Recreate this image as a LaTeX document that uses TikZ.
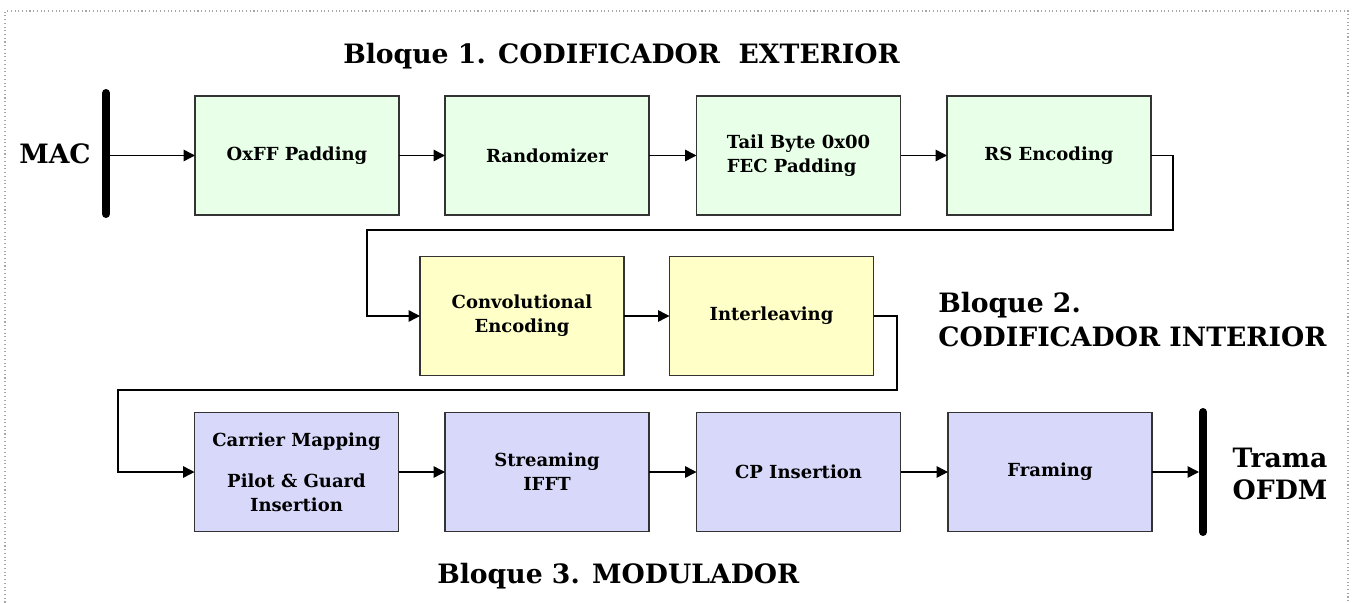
\documentclass[tikz,border=0pt]{standalone}
\usepackage{fontspec}
\setmainfont{DejaVu Serif}
\usetikzlibrary{arrows.meta}
\definecolor{grnfill}{HTML}{E8FFE8}
\definecolor{ylwfill}{HTML}{FFFFC8}
\definecolor{lavfill}{HTML}{D8D8FA}
\definecolor{boxline}{HTML}{333333}
\newcommand\bxfont{\fontsize{13.5}{18}\selectfont\bfseries}
\newcommand\ttlfont{\fontsize{20}{24}\selectfont\bfseries}
\begin{document}
\begin{tikzpicture}[x=0.75pt,y=-0.75pt,
  blk/.style={draw=boxline, line width=1.1pt, minimum width=153pt, minimum height=89.25pt,
    inner sep=0pt, outer sep=0pt, align=center, font=\bxfont},
  grn/.style={blk, fill=grnfill},
  ylw/.style={blk, fill=ylwfill},
  lav/.style={blk, fill=lavfill},
  conn/.style={line width=1.1pt, -{Triangle[length=8.5pt,width=8.5pt]}},
  bar/.style={line width=6pt, line cap=round},
  ttl/.style={font=\ttlfont, anchor=base west, inner sep=0pt},
  lbl/.style={font=\ttlfont, align=center, inner sep=0pt}]
\useasboundingbox (0,0) rectangle (1357,603);
\draw[gray!70, dotted, line width=0.8pt] (5,610) -- (5,11) -- (1348,11) -- (1348,610);

% titles
\node[ttl] (t1) at (343,63) {Bloque 1. CODIFICADOR\ \ EXTERIOR};
\node[ttl] (t2a) at (938,312) {Bloque 2.};
\node[ttl] (t2b) at (938,346) {CODIFICADOR INTERIOR};
\node[ttl] (t3) at (437,583) {Bloque 3. MODULADOR};

% row 1
\node[grn] (pad) at (297,155.5) {OxFF Padding};
\node[grn] (rnd) at (547,155.5) {Randomizer};
\node[grn, align=left] (tail) at (798.5,155.5) {Tail Byte 0x00\\FEC Padding};
\node[grn] (rs) at (1049,155.5) {RS Encoding};
% row 2
\node[ylw] (conv) at (522,316) {Convolutional\\Encoding};
\node[ylw] (intl) at (771.5,316) {Interleaving};
% row 3
\node[lav] (car) at (296.5,472) {Carrier Mapping\\[13pt]Pilot \& Guard\\Insertion};
\node[lav] (ifft) at (547,472) {Streaming\\IFFT};
\node[lav] (cp) at (798.5,472) {CP Insertion};
\node[lav] (frm) at (1050,472) {Framing};

% MAC and output
\node[lbl] (mac) at (55,154) {MAC};
\node[lbl] (trama) at (1280,474) {Trama\\OFDM};
\coordinate (macT) at (106,93);
\coordinate (macB) at (106,214);
\coordinate (macA) at (106,155.5);
\draw[bar] (macT) -- (macB);
\coordinate (outT) at (1203,412);
\coordinate (outB) at (1203,532);
\coordinate (outA) at (1199,472);
\draw[bar] (outT) -- (outB);

% connectors
\draw[conn] (macA) -- (pad.west);
\draw[conn] (pad) -- (rnd);
\draw[conn] (rnd) -- (tail);
\draw[conn] (tail) -- (rs);
\coordinate (l1a) at (1173,230);
\coordinate (l1b) at (367,230);
\draw[conn] (rs.east) -| (l1a) -- (l1b) |- (conv.west);
\draw[conn] (conv) -- (intl);
\coordinate (l2a) at (897,390);
\coordinate (l2b) at (118,390);
\draw[conn] (intl.east) -| (l2a) -- (l2b) |- (car.west);
\draw[conn] (car) -- (ifft);
\draw[conn] (ifft) -- (cp);
\draw[conn] (cp) -- (frm);
\draw[conn] (frm.east) -- (outA);
\end{tikzpicture}
\end{document}
